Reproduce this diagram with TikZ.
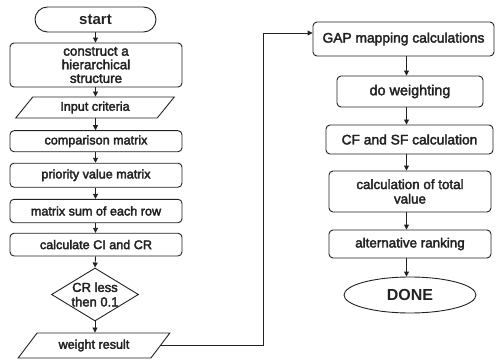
\documentclass[tikz,border=0pt]{standalone}
\usepackage{fontspec}
\setmainfont{Liberation Sans}
\usetikzlibrary{arrows.meta,shapes.geometric,shapes.misc}
\definecolor{ink}{HTML}{222222}
\tikzset{
  base/.style={draw=ink, line width=0.9pt, text=ink, inner sep=0pt, align=center},
  medtext/.style={execute at begin node={\special{pdf:literal direct 2 Tr 0.35 w}},
                  execute at end node={\special{pdf:literal direct 0 Tr}}},
  procbox/.style={base, medtext, rectangle, rounded corners=4pt},
  iobox/.style={base, medtext, trapezium, trapezium stretches=true},
  arr/.style={draw=ink, line width=0.9pt, -{Triangle[length=5pt,width=5pt]}},
  lft/.style={font=\fontsize{12.6}{14}\selectfont},
  rgt/.style={font=\fontsize{13.8}{15}\selectfont},
}
\begin{document}
\begin{tikzpicture}[x=1pt,y=-1pt]
\useasboundingbox (0,0) rectangle (496,361);
\coordinate (axisL) at (95.5,0);
\coordinate (axisR) at (406.5,0);
% left column
\node[base, rounded rectangle, minimum width=121pt, minimum height=25pt, font=\bfseries\fontsize{15}{17}\selectfont] (start) at (95.5,19.5) {start};
\node[procbox, lft, minimum width=172pt, minimum height=44pt, font=\fontsize{13.4}{13.6}\selectfont] (cons) at (96,65) {construct a\\hierarchical\\structure};
\node[iobox, lft, trapezium left angle=51, trapezium right angle=129, minimum width=159pt, minimum height=21pt] (inp) at (95,107.5) {Input criteria};
\node[procbox, lft, minimum width=172pt, minimum height=21pt] (comp) at (96,141.2) {comparison matrix};
\node[procbox, lft, minimum width=172pt, minimum height=24pt] (prio) at (96,175.2) {priority value matrix};
\node[procbox, lft, minimum width=172pt, minimum height=23.4pt] (msum) at (96,211) {matrix sum of each row};
\node[procbox, lft, minimum width=172pt, minimum height=22.7pt] (cicr) at (96,244.6) {calculate CI and CR};
\node[base, diamond, minimum width=87pt, minimum height=53pt] (dec) at (95,294.5) {};
\node[lft, medtext, text=ink, align=center, inner sep=0pt, font=\fontsize{13}{14.5}\selectfont] (dectext) at (dec) {CR less\\then 0.1};
\node[iobox, lft, trapezium left angle=45, trapezium right angle=135, minimum width=152pt, minimum height=25pt] (wres) at (94,345.5) {weight result};
% right column
\node[procbox, rgt, minimum width=181pt, minimum height=34pt] (gap) at (403.5,39) {GAP mapping calculations};
\node[procbox, rgt, minimum width=146pt, minimum height=31pt, font=\fontsize{14.4}{16}\selectfont] (dow) at (410,91.5) {do weighting};
\node[procbox, rgt, minimum width=167pt, minimum height=29pt] (cfsf) at (409.5,139.5) {CF and SF calculation};
\node[procbox, rgt, minimum width=162pt, minimum height=41pt, font=\fontsize{13.4}{14.5}\selectfont] (tot) at (410,191.5) {calculation of total\\value};
\node[procbox, rgt, minimum width=162pt, minimum height=28pt, font=\fontsize{13.4}{15}\selectfont] (alt) at (410,244) {alternative ranking};
\node[base, ellipse, minimum width=132pt, minimum height=36pt, font=\bfseries\fontsize{16}{18}\selectfont] (done) at (410,295) {DONE};
% connectors
\draw[arr] (start.south -| axisL) -- (cons.north -| axisL);
\draw[arr] (cons.south -| axisL) -- (inp.north -| axisL);
\draw[arr] (inp.south -| axisL) -- (comp.north -| axisL);
\draw[arr] (comp.south -| axisL) -- (prio.north -| axisL);
\draw[arr] (prio.south -| axisL) -- (msum.north -| axisL);
\draw[arr] (msum.south -| axisL) -- (cicr.north -| axisL);
\draw[arr] (cicr.south -| axisL) -- (dec.north);
\draw[arr] (dec.south) -- (wres.north -| dec.south);
\coordinate (turn) at (263,33);
\draw[arr] (wres.east) -| (turn) -- ([yshift=6pt]gap.west);
\draw[arr] (gap.south -| axisR) -- (dow.north -| axisR);
\draw[arr] (dow.south -| axisR) -- (cfsf.north -| axisR);
\draw[arr] (cfsf.south -| axisR) -- (tot.north -| axisR);
\draw[arr] (tot.south -| axisR) -- (alt.north -| axisR);
\draw[arr] (alt.south -| axisR) -- (done.north -| axisR);
\end{tikzpicture}
\end{document}
